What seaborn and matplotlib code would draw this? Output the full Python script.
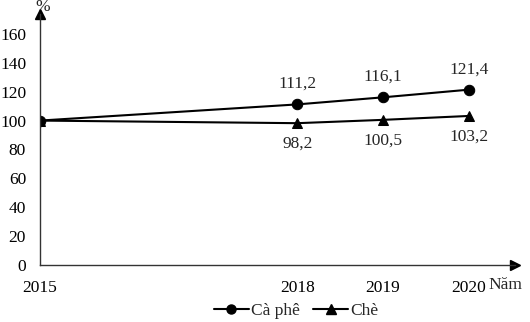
import matplotlib
matplotlib.use("Agg")
import matplotlib.pyplot as plt
import seaborn as sns
import pandas as pd
from matplotlib.lines import Line2D

years = [2015, 2018, 2019, 2020]
ca_phe = [100, 111.2, 116.1, 121.4]
che = [100, 98.2, 100.5, 103.2]
series_names = ["Cà phê", "Chè"]
yticks = [0, 20, 40, 60, 80, 100, 120, 140, 160]

df = pd.DataFrame({
    "year": years + years,
    "value": ca_phe + che,
    "series": [series_names[0]] * len(years) + [series_names[1]] * len(years),
})

sns.set_style("white")
plt.rcParams["font.family"] = ["Liberation Serif", "DejaVu Serif"]
FS = 12.5

fig = plt.figure(figsize=(5.3, 3.22), dpi=100)
W, H = 530, 322
ax = fig.add_axes([40 / W, (H - 265) / H, (515 - 40) / W, (265 - 14) / H])

sns.lineplot(data=df, x="year", y="value", hue="series", style="series",
             markers={"Cà phê": "o", "Chè": "^"}, dashes=False,
             palette={"Cà phê": "black", "Chè": "black"},
             markersize=7.5, linewidth=1.5, ax=ax, legend=False,
             markeredgecolor="black")

ax.set_xlim(2015, 2020.54)
ax.set_ylim(0, 173.8)
ax.set_xticks(years)
ax.set_xticklabels([str(y) for y in years], fontsize=FS)
ax.set_yticks(yticks)
ax.set_yticklabels([str(v) for v in yticks], fontsize=FS)
ax.set_xlabel("")
ax.set_ylabel("")
ax.tick_params(axis="x", direction="inout", length=7, width=0.8, pad=7, colors="black")
ax.tick_params(axis="y", direction="out", length=4, width=0.8, pad=6, colors="black")
for s in ["top", "right"]:
    ax.spines[s].set_visible(False)
for s in ["left", "bottom"]:
    ax.spines[s].set_color("#333333")
    ax.spines[s].set_linewidth(1.0)
ax.set_facecolor("none")

# arrow heads
ax.plot([1], [0], marker=">", color="black", markersize=7, transform=ax.transAxes, clip_on=False)
ax.plot([0], [1], marker="^", color="black", markersize=7, transform=ax.transAxes, clip_on=False)

# value labels
for x, v in zip(years[1:], ca_phe[1:]):
    ax.annotate(f"{v:.1f}".replace(".", ","), (x, v), xytext=(0, 9), textcoords="offset points",
                ha="center", va="bottom", fontsize=FS)
for x, v in zip(years[1:], che[1:]):
    ax.annotate(f"{v:.1f}".replace(".", ","), (x, v), xytext=(0, -9), textcoords="offset points",
                ha="center", va="top", fontsize=FS)

fig.text(43 / W, 1 - 7 / H, "%", ha="center", va="center", fontsize=FS)
fig.text(505 / W, 1 - 285 / H, "Năm", ha="center", va="center", fontsize=FS)

handles = [Line2D([], [], color="black", marker="o", markersize=6.5, linewidth=1.5),
           Line2D([], [], color="black", marker="^", markersize=6.5, linewidth=1.5)]
fig.legend(handles, series_names, loc="center", bbox_to_anchor=(296 / W, 1 - 311 / H),
           ncol=2, frameon=False, fontsize=FS, handlelength=2.0, handletextpad=0.1,
           columnspacing=0.8)

fig.savefig("out.png", dpi=100)
